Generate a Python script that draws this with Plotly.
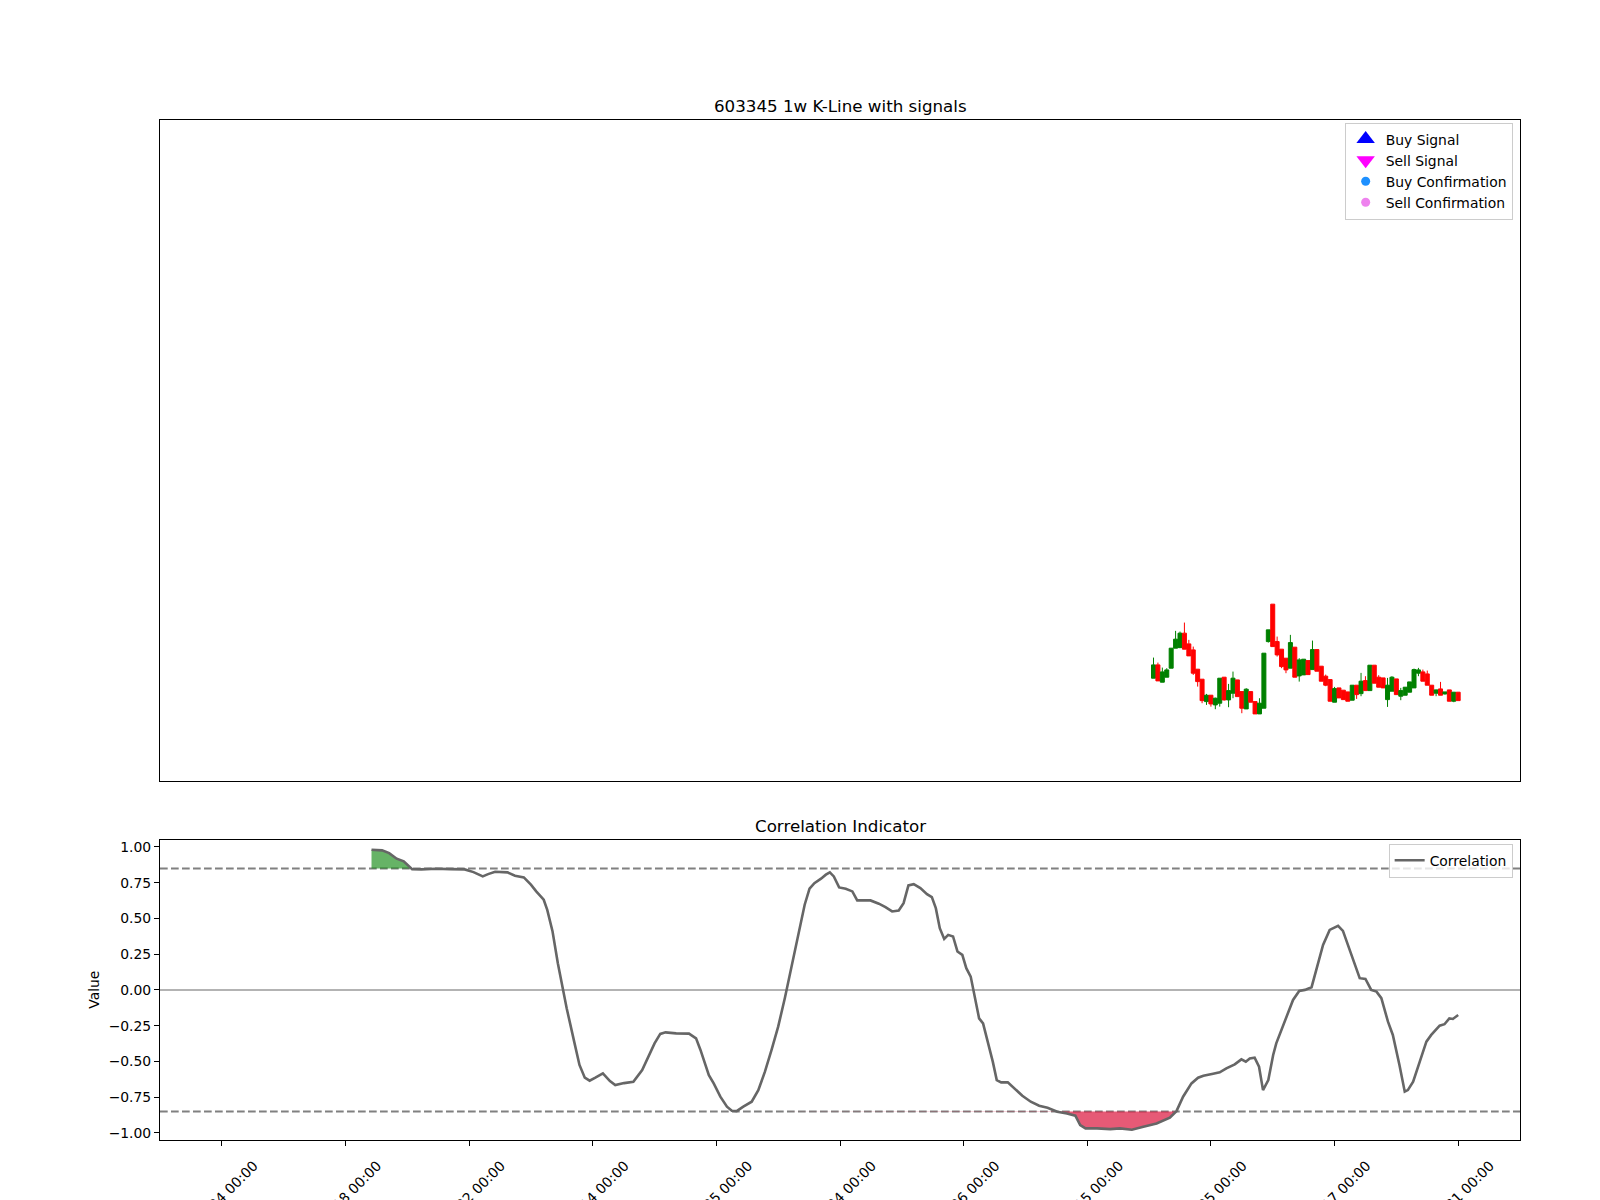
import numpy as np
import plotly.graph_objects as go

# ---------------- data ----------------
tick_idx = list(range(0, 281, 28))
tick_dates = ["2019-01-04 00:00", "2019-07-18 00:00", "2020-01-22 00:00", "2020-08-14 00:00",
              "2021-02-25 00:00", "2021-09-24 00:00", "2022-04-26 00:00", "2022-11-15 00:00",
              "2023-05-25 00:00", "2023-11-17 00:00", "2024-05-31 00:00"]

candle_idx = list(range(211, 281))
opens = [111.7, 125.0, 107.7, 112.7, 121.7, 141.7, 142.3, 156.7, 146.0, 140.0,
         120.7, 110.7, 88.3, 94.7, 85.0, 86.7, 112.7, 90.0, 96.7, 110.0,
         98.3, 81.0, 98.3, 88.3, 76.0, 81.7, 148.3, 185.7, 148.3, 140.7,
         131.7, 121.7, 142.7, 114.0, 115.0, 129.3, 120.3, 140.3, 123.7, 113.7,
         110.3, 87.7, 102.0, 99.7, 98.0, 89.7, 104.7, 96.3, 109.3, 99.3,
         124.7, 112.7, 112.0, 90.3, 98.7, 111.0, 93.7, 94.7, 97.7, 102.0,
         116.7, 118.0, 116.0, 104.7, 96.7, 101.0, 96.0, 100.0, 88.7, 97.7]
highs = [132.3, 127.3, 122.3, 121.7, 141.7, 159.0, 158.3, 167.3, 150.0, 143.3,
         120.7, 110.7, 96.0, 94.7, 92.3, 111.7, 112.7, 106.0, 118.3, 110.0,
         98.3, 101.7, 98.3, 88.3, 91.7, 136.7, 160.0, 185.7, 153.3, 140.7,
         131.7, 155.0, 142.7, 131.7, 130.7, 129.3, 149.3, 140.3, 123.7, 115.3,
         110.3, 103.0, 102.0, 99.7, 98.0, 104.7, 104.7, 117.0, 113.7, 124.7,
         124.7, 114.7, 112.0, 112.0, 113.7, 111.0, 102.0, 102.7, 108.0, 121.3,
         122.0, 120.3, 119.3, 104.7, 100.3, 108.0, 98.0, 100.0, 97.7, 97.7]
lows = [111.7, 109.0, 107.7, 112.7, 121.7, 141.7, 141.7, 140.7, 134.0, 115.0,
        103.3, 86.7, 85.0, 83.3, 80.7, 83.3, 89.3, 82.7, 91.7, 93.3,
        76.7, 81.0, 87.7, 76.0, 76.0, 81.7, 147.3, 143.3, 133.3, 121.7,
        116.7, 121.7, 112.7, 108.3, 115.0, 115.3, 120.3, 118.7, 108.7, 103.7,
        88.7, 87.7, 92.0, 90.3, 88.7, 89.7, 91.0, 93.7, 99.3, 99.3,
        106.7, 102.7, 102.0, 83.0, 98.7, 95.3, 89.7, 94.7, 97.7, 102.0,
        113.7, 108.7, 104.7, 94.7, 93.7, 94.7, 95.3, 88.7, 87.7, 89.3]
closes = [125.0, 109.0, 118.0, 120.0, 141.7, 150.7, 156.7, 140.7, 134.0, 116.7,
          108.3, 89.3, 94.7, 86.0, 91.7, 111.7, 90.0, 99.3, 111.7, 93.3,
          81.7, 100.7, 87.7, 76.0, 86.7, 136.7, 160.0, 143.3, 135.0, 123.3,
          120.0, 147.3, 112.7, 130.0, 130.7, 115.3, 140.3, 118.7, 108.7, 104.7,
          88.7, 101.3, 92.0, 90.3, 88.7, 104.7, 95.3, 108.7, 99.3, 124.7,
          106.7, 102.7, 102.0, 104.7, 112.7, 95.3, 99.3, 102.7, 108.0, 120.3,
          120.0, 108.7, 104.7, 94.7, 100.0, 94.7, 98.0, 88.7, 97.7, 89.3]

corr_x = [33.9, 36.3, 37.9, 39.6, 41.2, 43.1, 45.2, 48.5, 51.7, 55.0, 57.0, 59.1, 60.3, 61.9,
          64.7, 66.4, 68.4, 70.0, 71.2, 72.9, 73.7, 74.9, 76.1, 77.3, 78.1, 79.8, 81.0, 82.2,
          83.3, 84.6, 86.3, 87.9, 89.1, 91.1, 93.2, 95.2, 96.4, 98.0, 99.3, 100.5, 102.9, 105.8,
          107.4, 108.4, 110.3, 111.4, 112.9, 114.4, 115.5, 116.6, 118.1, 120.0, 121.5, 123.0,
          124.5, 126.0, 127.5, 128.6, 129.7, 130.9, 132.0, 133.1, 134.2, 135.7, 136.8, 137.7,
          138.6, 139.8, 141.3, 142.8, 143.9, 145.1, 146.9, 148.8, 150.3, 151.8, 153.3, 154.4,
          155.5, 156.7, 158.2, 159.7, 160.8, 161.7, 162.6, 163.6, 164.5, 165.6, 166.6, 167.7,
          168.6, 169.6, 170.5, 171.5, 172.4, 173.5, 174.6, 175.5, 176.5, 178.0, 179.5, 181.3,
          183.2, 185.1, 187.0, 189.2, 191.4, 193.3, 194.4, 195.6, 198.2, 201.2, 203.4, 206.1,
          208.7, 211.7, 214.7, 216.2, 217.7, 219.6, 221.1, 222.3, 224.5, 226.0, 227.5, 229.4,
          230.9, 231.9, 232.8, 233.9, 234.9, 235.8, 237.0, 238.1, 238.8, 240.0, 241.1, 242.6,
          244.0, 245.3, 246.8, 247.9, 249.4, 250.9, 252.8, 253.9, 255.4, 257.7, 259.0, 260.3,
          261.5, 262.6, 264.1, 265.2, 266.7, 267.9, 268.6, 269.8, 271.3, 272.8, 273.9, 275.8,
          276.9, 278.0, 278.8, 280.0]
corr_v = [0.981, 0.976, 0.957, 0.918, 0.899, 0.845, 0.843, 0.848, 0.845, 0.843, 0.824, 0.794,
          0.810, 0.827, 0.822, 0.799, 0.787, 0.736, 0.689, 0.631, 0.560, 0.409, 0.187, 0.0,
          -0.128, -0.362, -0.525, -0.614, -0.635, -0.614, -0.584, -0.638, -0.666, -0.652, -0.642,
          -0.560, -0.479, -0.374, -0.308, -0.297, -0.304, -0.306, -0.339, -0.420, -0.596, -0.654,
          -0.747, -0.817, -0.845, -0.848, -0.817, -0.782, -0.701, -0.572, -0.420, -0.257, -0.058,
          0.105, 0.269, 0.432, 0.596, 0.708, 0.747, 0.778, 0.806, 0.822, 0.794, 0.717, 0.708,
          0.689, 0.626, 0.626, 0.626, 0.603, 0.579, 0.549, 0.556, 0.607, 0.731, 0.740, 0.712,
          0.670, 0.649, 0.572, 0.432, 0.357, 0.385, 0.374, 0.269, 0.245, 0.152, 0.093, -0.035,
          -0.199, -0.234, -0.362, -0.502, -0.631, -0.647, -0.647, -0.689, -0.740, -0.782, -0.810,
          -0.824, -0.852, -0.864, -0.880, -0.946, -0.969, -0.969, -0.974, -0.969, -0.978, -0.957,
          -0.934, -0.894, -0.848, -0.747, -0.654, -0.614, -0.600, -0.586, -0.577, -0.549, -0.521,
          -0.486, -0.502, -0.479, -0.474, -0.537, -0.701, -0.631, -0.455, -0.374, -0.280, -0.187,
          -0.070, -0.007, 0.0, 0.019, 0.152, 0.315, 0.420, 0.448, 0.413, 0.280, 0.082, 0.077,
          0.0, -0.012, -0.058, -0.222, -0.315, -0.525, -0.712, -0.701, -0.642, -0.502, -0.362,
          -0.315, -0.250, -0.240, -0.199, -0.203, -0.175]

upper_thr = 0.85
lower_thr = -0.85
y_ticks = [1.0, 0.75, 0.5, 0.25, 0.0, -0.25, -0.5, -0.75, -1.0]

# ---------------- figure ----------------
FONT = "DejaVu Sans"
fig = go.Figure()

fig.add_trace(go.Candlestick(
    x=candle_idx, open=opens, high=highs, low=lows, close=closes,
    increasing=dict(line=dict(color="#008000", width=1), fillcolor="#008000"),
    decreasing=dict(line=dict(color="#ff0000", width=1), fillcolor="#ff0000"),
    whiskerwidth=0, showlegend=False, xaxis="x", yaxis="y"))

sig_defs = [("Buy Signal", "triangle-up", "blue", 20),
            ("Sell Signal", "triangle-down", "magenta", 20),
            ("Buy Confirmation", "circle", "dodgerblue", 9),
            ("Sell Confirmation", "circle", "violet", 9)]
for name, sym, col, sz in sig_defs:
    fig.add_trace(go.Scatter(x=[None], y=[None], mode="markers", name=name,
                             marker=dict(symbol=sym, color=col, size=sz, line=dict(width=0)),
                             xaxis="x", yaxis="y", legend="legend"))

cx = np.array(corr_x)
cv = np.array(corr_v)
up = np.maximum(cv, upper_thr)
lo = np.minimum(cv, lower_thr)
fig.add_trace(go.Scatter(x=cx, y=np.full(cx.shape, upper_thr), mode="lines", line=dict(width=0),
                         showlegend=False, hoverinfo="skip", xaxis="x2", yaxis="y2"))
fig.add_trace(go.Scatter(x=cx, y=up, mode="lines", line=dict(width=0), fill="tonexty",
                         fillcolor="rgba(0,128,0,0.6)", showlegend=False, hoverinfo="skip",
                         xaxis="x2", yaxis="y2"))
fig.add_trace(go.Scatter(x=cx, y=np.full(cx.shape, lower_thr), mode="lines", line=dict(width=0),
                         showlegend=False, hoverinfo="skip", xaxis="x2", yaxis="y2"))
fig.add_trace(go.Scatter(x=cx, y=lo, mode="lines", line=dict(width=0), fill="tonexty",
                         fillcolor="rgba(220,20,60,0.7)", showlegend=False, hoverinfo="skip",
                         xaxis="x2", yaxis="y2"))

# reference lines
for yv, col, dash in [(upper_thr, "#808080", "7.7px,3.3px"), (lower_thr, "#808080", "7.7px,3.3px"),
                      (0.0, "#b3b3b3", "solid")]:
    fig.add_shape(type="line", xref="x2 domain", yref="y2", x0=0, x1=1, y0=yv, y1=yv,
                  line=dict(color=col, width=2, dash=dash), layer="below")

fig.add_trace(go.Scatter(x=cx, y=cv, mode="lines", name="Correlation",
                         line=dict(color="#666666", width=2.6), xaxis="x2", yaxis="y2",
                         legend="legend2"))

xr = [-0.05 * 280, 280 * 1.05]
axis_common = dict(showline=True, linecolor="black", linewidth=1, mirror=True,
                   showgrid=False, zeroline=False)

fig.update_layout(
    width=1600, height=1200,
    margin=dict(l=160, r=80, t=120, b=60, autoexpand=False),
    paper_bgcolor="white", plot_bgcolor="white",
    font=dict(family=FONT, size=13.9, color="black"),
    boxgap=0.05, boxgroupgap=0.05,
    xaxis=dict(domain=[0, 1], anchor="y", range=xr, showticklabels=False, ticks="",
               rangeslider=dict(visible=False), **axis_common),
    yaxis=dict(domain=[0.3524, 1.0], anchor="x", range=[9.4, 669.6], showticklabels=False,
               ticks="", **axis_common),
    xaxis2=dict(domain=[0, 1], anchor="y2", range=xr, tickmode="array", tickvals=tick_idx,
                ticktext=tick_dates, tickangle=-45, ticks="outside", ticklen=5, tickwidth=1,
                tickcolor="black", automargin=False, ticklabelshift=32, ticklabelstandoff=6,
                **axis_common),
    yaxis2=dict(domain=[0, 0.2943], anchor="x2", range=[-1.05, 1.05], tickmode="array",
                tickvals=y_ticks, tickformat=".2f", ticks="outside", ticklen=5, tickwidth=1,
                tickcolor="black", automargin=False, **axis_common),
    legend=dict(x=0.9946, y=0.9975, xanchor="right", yanchor="top", xref="paper", yref="paper",
                bgcolor="rgba(255,255,255,0.8)", bordercolor="#cccccc", borderwidth=1,
                font=dict(size=13.9), itemsizing="trace", tracegroupgap=0, traceorder="normal"),
    legend2=dict(x=0.9946, y=0.2905, xanchor="right", yanchor="top", xref="paper", yref="paper",
                 bgcolor="rgba(255,255,255,0.8)", bordercolor="#cccccc", borderwidth=1,
                 font=dict(size=13.9), traceorder="normal"),
    annotations=[
        dict(text="603345 1w K-Line with signals", xref="paper", yref="paper", x=0.5, y=1.0,
             xanchor="center", yanchor="bottom", yshift=2, showarrow=False,
             font=dict(size=16.7, family=FONT)),
        dict(text="Correlation Indicator", xref="paper", yref="paper", x=0.5, y=0.2943,
             xanchor="center", yanchor="bottom", yshift=2, showarrow=False,
             font=dict(size=16.7, family=FONT)),
        dict(text="Value", xref="paper", yref="paper", x=-0.0487, y=0.1471, textangle=-90,
             xanchor="center", yanchor="middle", showarrow=False, font=dict(size=13.9, family=FONT)),
    ],
)

fig.write_html("out.html", config={"displayModeBar": False},
               post_script="document.body.style.margin='0px';")
